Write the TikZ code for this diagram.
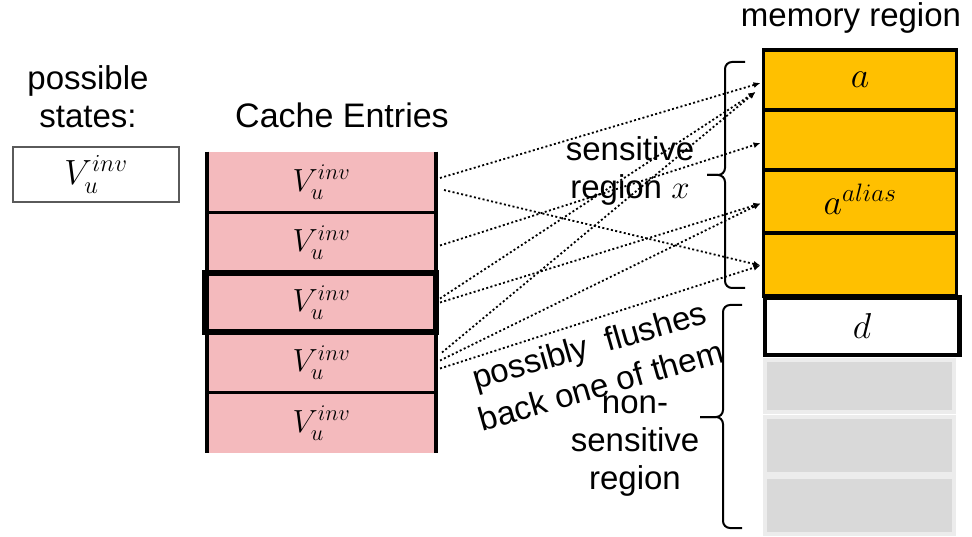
\documentclass[tikz,border=0pt]{standalone}
\usepackage{fix-cm}
\usepackage{fontspec}
\setmainfont{Liberation Sans}
\usetikzlibrary{arrows.meta,calc}
\definecolor{cachepink}{RGB}{244,186,189}
\definecolor{memgold}{RGB}{255,192,0}
\definecolor{memgray}{RGB}{217,217,217}
\definecolor{memgrayedge}{RGB}{236,236,236}
\definecolor{stateedge}{RGB}{90,90,90}
\begin{document}
\begin{tikzpicture}[x=1pt,y=-1pt,
  txt/.style={font=\fontsize{33}{38}\selectfont, align=center, inner sep=0pt},
  vlbl/.style={font=\fontsize{35}{40}\selectfont, inner sep=0pt},
  cacherow/.style={fill=cachepink, minimum width=229pt, minimum height=60.5pt,
    inner sep=0pt, outer sep=0pt, font=\fontsize{32}{36}\selectfont},
  memcell/.style={draw=black, line width=3.5pt, fill=memgold, minimum width=193pt,
    inner sep=0pt, outer sep=0pt, font=\fontsize{36}{40}\selectfont},
  graycell/.style={draw=memgrayedge, line width=4pt, fill=memgray, minimum width=189pt,
    inner sep=0pt, outer sep=0pt},
  flush/.style={dash pattern=on 2pt off 2.4pt, line width=1.8pt,
    -{Latex[length=7pt,width=6pt]}},
  bracket/.style={line width=2pt, rounded corners=7pt},
]
\useasboundingbox (0,0) rectangle (972,537);

% legend of possible states
\node[txt] (statetitle) at (88,97) {possible\\states:};
\node[draw=stateedge, line width=1.5pt, minimum width=166pt, minimum height=55pt,
  vlbl] (statebox) at (96,174.5) {$V_u^{inv}$};

% cache entries column
\node[txt, anchor=base, font=\fontsize{34}{38}\selectfont] (cachetitle) at (342,128) {Cache Entries};
\node[cacherow] (c1) at (321.5,182) {$V_u^{inv}$};
\node[cacherow] (c2) at (321.5,242.5) {$V_u^{inv}$};
\node[cacherow] (c3) at (321.5,302.5) {$V_u^{inv}$};
\node[cacherow] (c4) at (321.5,362.5) {$V_u^{inv}$};
\node[cacherow] (c5) at (321.5,423) {$V_u^{inv}$};
\draw[line width=3pt] (c1.south west) -- (c1.south east);
\draw[line width=3pt] (c4.south west) -- (c4.south east);
\draw[line width=4pt] (c1.north west) -- (c5.south west);
\draw[line width=4pt] (c1.north east) -- (c5.south east);
\draw[line width=6pt] ($(c3.north west)+(-2,1)$) rectangle ($(c3.south east)+(0,-1)$);

% memory region column
\node[txt, anchor=base] (memtitle) at (851,27) {memory region};
\node[memcell, minimum height=60pt] (m1) at (860,80) {$a$};
\node[memcell, minimum height=60pt] (m2) at (860,140) {};
\node[memcell, minimum height=63pt] (m3) at (860,201.5) {\raisebox{4pt}{$a^{alias}$}};
\node[memcell, minimum height=63pt] (m4) at (860,264.5) {};
\node[memcell, fill=white, line width=4.5pt, minimum width=194.5pt, minimum height=57.5pt]
  (m5) at (862,326.25) {$d$};
\node[graycell, minimum height=52pt] (g1) at (859.5,386) {};
\node[graycell, minimum height=57pt] (g2) at (859.5,445.5) {};
\node[graycell, minimum height=57pt] (g3) at (859.5,505.5) {};

% possible write-backs
\draw[flush] ($(c1.east)+(4,-4)$) -- ($(m1.west)+(-3,3)$);
\draw[flush] ($(c1.east)+(8,8)$) -- ($(m4.west)+(-3,1)$);
\draw[flush] ($(c2.east)+(4,3)$) -- ($(m2.west)+(-3,3)$);
\draw[flush] ($(c3.east)+(4,-4)$) -- ($(m1.west)+(-8,12)$);
\draw[flush] ($(c3.east)+(4,0)$) -- ($(m3.west)+(-3,2)$);
\draw[flush] ($(c4.east)+(6,-10)$) -- ($(m1.west)+(-8,12)$);
\draw[flush] ($(c4.east)+(4,-2)$) -- ($(m3.west)+(-3,2)$);
\draw[flush] ($(c4.east)+(4,6)$) -- ($(m4.west)+(-3,1)$);

% region braces
\draw[bracket] (745,62) -- (725,62) -- (725,175) -- (707,175);
\draw[bracket] (745,288) -- (725,288) -- (725,175) -- (707,175);
\draw[bracket] (742,305) -- (723,305) -- (723,417) -- (700,417);
\draw[bracket] (742,528) -- (723,528) -- (723,417) -- (700,417);

% region labels
\node[txt] (senslabel) at (630,170.5) {sensitive\\region $x$};
\node[txt] (nonsenslabel) at (635,446.5) {non-\\sensitive\\region};
\node[txt, rotate=16, font=\fontsize{33}{42}\selectfont] (flushlabel) at (595,365)
  {possibly\ \ flushes\\back one of them};
\end{tikzpicture}
\end{document}
